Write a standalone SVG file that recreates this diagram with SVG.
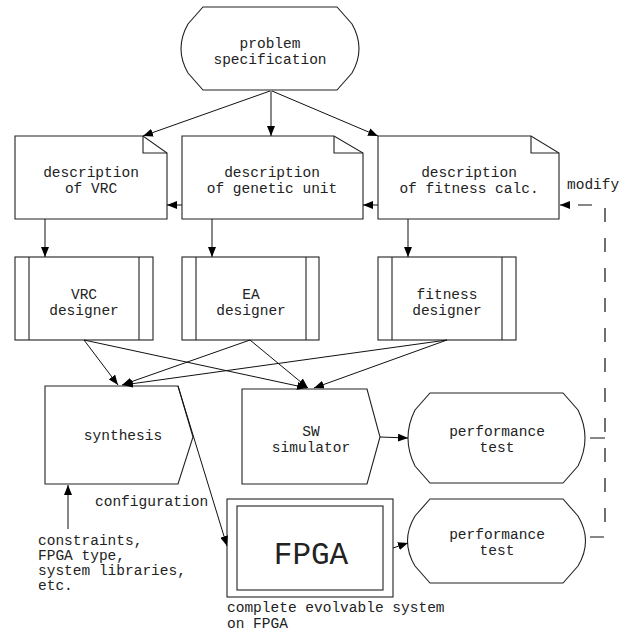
<svg xmlns="http://www.w3.org/2000/svg" width="634" height="633" viewBox="0 0 634 633">
<style>
.s{fill:#fff;stroke:#222;stroke-width:1.1}
.f{fill:none;stroke:#222;stroke-width:1.1}
.t{font-family:"Courier New","Liberation Mono",monospace;font-size:14.5px;fill:#222;text-anchor:middle}
.l{font-family:"Courier New","Liberation Mono",monospace;font-size:14.5px;fill:#222}
.c{fill:none;stroke:#111;stroke-width:1}
.d{fill:none;stroke:#111;stroke-width:1.2;stroke-dasharray:14 16}
</style>
<defs>
<marker id="a" markerUnits="userSpaceOnUse" markerWidth="10" markerHeight="8" refX="10" refY="4" orient="auto">
<path d="M0,0 L10,4 L0,8 z" fill="#000"/>
</marker>
</defs>
<rect width="634" height="633" fill="#fff"/>

<g id="problem">
<path class="s" d="M203,7 H337 L352,24 Q366,48.5 352,73 L337,90 H203 L188,73 Q174,48.5 188,24 Z"/>
<text class="t" x="270" y="48">problem</text>
<text class="t" x="270" y="64">specification</text>
</g>

<g id="descVRC">
<path class="s" d="M15,136 H143 L167,153 V219 H15 Z"/>
<path class="f" d="M143,136 V153 H167"/>
<text class="t" x="91" y="177">description</text>
<text class="t" x="91" y="193">of VRC</text>
</g>

<g id="descGen">
<path class="s" d="M182,136 H334 L363,153 V219 H182 Z"/>
<path class="f" d="M334,136 V153 H363"/>
<text class="t" x="272" y="177">description</text>
<text class="t" x="272" y="193">of genetic unit</text>
</g>

<g id="descFit">
<path class="s" d="M378,136 H531 L559,153 V219 H378 Z"/>
<path class="f" d="M531,136 V153 H559"/>
<text class="t" x="469" y="177">description</text>
<text class="t" x="469" y="193">of fitness calc.</text>
</g>

<g id="vrcDesigner">
<rect class="s" x="15" y="257" width="138" height="83"/>
<path class="f" d="M29,257 V340 M139,257 V340"/>
<text class="t" x="84" y="299">VRC</text>
<text class="t" x="84" y="315">designer</text>
</g>

<g id="eaDesigner">
<rect class="s" x="182" y="257" width="137" height="83"/>
<path class="f" d="M196,257 V340 M306,257 V340"/>
<text class="t" x="251" y="299">EA</text>
<text class="t" x="251" y="315">designer</text>
</g>

<g id="fitDesigner">
<rect class="s" x="378" y="257" width="138" height="83"/>
<path class="f" d="M392,257 V340 M502,257 V340"/>
<text class="t" x="447" y="299">fitness</text>
<text class="t" x="447" y="315">designer</text>
</g>

<g id="synthesis">
<path class="s" d="M45,386 H178 L193,437 L178,484 H45 Z"/>
<text class="t" x="123" y="440">synthesis</text>
</g>

<g id="swsim">
<path class="s" d="M242,389 H367 L380,437 L367,484 H242 Z"/>
<text class="t" x="311" y="436">SW</text>
<text class="t" x="311" y="452">simulator</text>
</g>

<g id="perf1">
<path class="s" d="M430,393 H563 L578,410 Q592,438 578,466 L563,483 H430 L415,466 Q401,438 415,410 Z"/>
<text class="t" x="497" y="436">performance</text>
<text class="t" x="497" y="452">test</text>
</g>

<g id="fpga">
<rect class="s" x="227" y="499" width="166" height="98"/>
<rect class="s" x="237" y="506" width="146" height="84"/>
<text class="t" x="311" y="564" style="font-size:31px">FPGA</text>
<text class="l" x="227" y="612">complete evolvable system</text>
<text class="l" x="227" y="628">on FPGA</text>
</g>

<g id="perf2">
<path class="s" d="M430,499 H563 L578,516 Q593,541 578,566 L563,583 H430 L415,566 Q400,541 415,516 Z"/>
<text class="t" x="497" y="539">performance</text>
<text class="t" x="497" y="555">test</text>
</g>

<g id="labels">
<text class="l" x="95" y="506">configuration</text>
<text class="l" x="38" y="545">constraints,</text>
<text class="l" x="38" y="560">FPGA type,</text>
<text class="l" x="38" y="575">system libraries,</text>
<text class="l" x="38" y="590">etc.</text>
<text class="l" x="567" y="189">modify</text>
</g>

<g id="connectors">
<path class="c" marker-end="url(#a)" d="M270,91 L143,136"/>
<path class="c" marker-end="url(#a)" d="M271,91 L271,136"/>
<path class="c" marker-end="url(#a)" d="M272,91 L378,136"/>
<path class="c" marker-end="url(#a)" d="M182,205 L167,205"/>
<path class="c" marker-end="url(#a)" d="M378,205 L363,205"/>
<path class="c" marker-end="url(#a)" d="M45,219 L45,257"/>
<path class="c" marker-end="url(#a)" d="M212,219 L212,257"/>
<path class="c" marker-end="url(#a)" d="M408,219 L408,257"/>
<path class="c" marker-end="url(#a)" d="M84,340 L118,385"/>
<path class="c" marker-end="url(#a)" d="M84,340 L307,388"/>
<path class="c" marker-end="url(#a)" d="M250,340 L122,385"/>
<path class="c" marker-end="url(#a)" d="M250,340 L308,388"/>
<path class="c" marker-end="url(#a)" d="M447,340 L123,385"/>
<path class="c" marker-end="url(#a)" d="M447,340 L314,388"/>
<path class="c" marker-end="url(#a)" d="M178,386 L227,546"/>
<path class="c" marker-end="url(#a)" d="M68,529 L68,485"/>
<path class="c" marker-end="url(#a)" d="M380,437 L408,438"/>
<path class="c" marker-end="url(#a)" d="M393,548 L408,543"/>
<path class="c" d="M590,438 H605"/>
<path class="d" marker-end="url(#a)" d="M590,537 H605 V205 H560"/>
</g>
</svg>
